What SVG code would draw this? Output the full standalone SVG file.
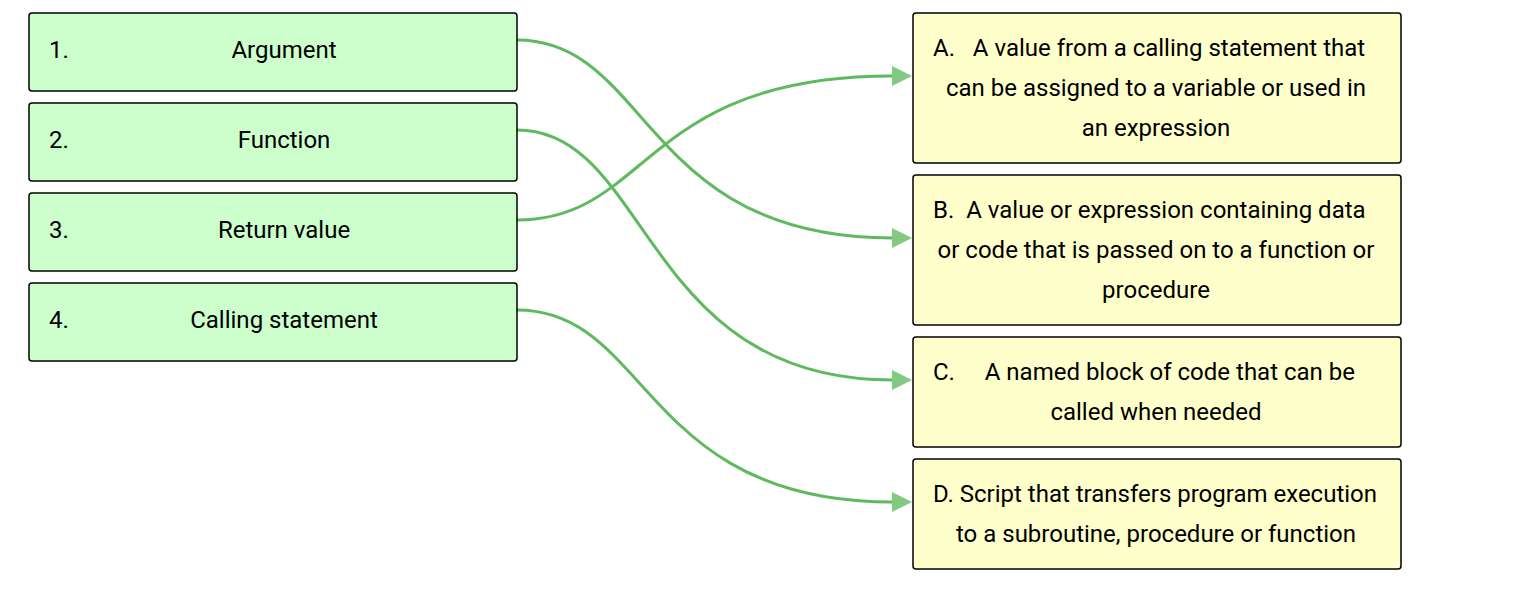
<svg xmlns="http://www.w3.org/2000/svg" width="1516" height="598" viewBox="0 0 1516 598">
<defs>
<style>
.l{fill:#ccffcc;stroke:#000;stroke-width:1.5}
.r{fill:#ffffcc;stroke:#000;stroke-width:1.5}
text{font-family:Roboto,"Liberation Sans",sans-serif;font-size:24px;fill:#000}
.c{text-anchor:middle}
.e{fill:none;stroke:#5fba5f;stroke-width:3}
</style>
<marker id="ah" viewBox="0 0 20 20" refX="0" refY="10" markerWidth="20" markerHeight="20" markerUnits="userSpaceOnUse" orient="auto">
<path d="M0,0 L20,10 L0,20 Z" fill="#82c982"/>
</marker>
</defs>
<rect width="1516" height="598" fill="#fff"/>
<g id="connectors">
<path class="e" d="M517,40 C650,40 642,238 892,238" marker-end="url(#ah)"/>
<path class="e" d="M517,130 C650,130 642,380 892,380" marker-end="url(#ah)"/>
<path class="e" d="M517,220 C650,220 642,76 892,76" marker-end="url(#ah)"/>
<path class="e" d="M517,310 C650,310 642,502 892,502" marker-end="url(#ah)"/>
</g>
<g id="n1"><rect class="l" x="29" y="13" width="488" height="78" rx="3"/><text x="49" y="58">1.</text><text class="c" x="284" y="58">Argument</text></g>
<g id="n2"><rect class="l" x="29" y="103" width="488" height="78" rx="3"/><text x="49" y="148">2.</text><text class="c" x="284" y="148">Function</text></g>
<g id="n3"><rect class="l" x="29" y="193" width="488" height="78" rx="3"/><text x="49" y="238">3.</text><text class="c" x="284" y="238">Return value</text></g>
<g id="n4"><rect class="l" x="29" y="283" width="488" height="78" rx="3"/><text x="49" y="328">4.</text><text class="c" x="284" y="328">Calling statement</text></g>
<g id="nA"><rect class="r" x="913" y="13" width="488" height="150" rx="3"/>
<text x="933" y="56" xml:space="preserve">A.   A value from a calling statement that</text>
<text class="c" x="1156" y="96">can be assigned to a variable or used in</text>
<text class="c" x="1156" y="136">an expression</text></g>
<g id="nB"><rect class="r" x="913" y="175" width="488" height="150" rx="3"/>
<text x="933" y="218" xml:space="preserve">B.  A value or expression containing data</text>
<text class="c" x="1156" y="258">or code that is passed on to a function or</text>
<text class="c" x="1156" y="298">procedure</text></g>
<g id="nC"><rect class="r" x="913" y="337" width="488" height="110" rx="3"/>
<text x="933" y="380" xml:space="preserve">C.     A named block of code that can be</text>
<text class="c" x="1156" y="420">called when needed</text></g>
<g id="nD"><rect class="r" x="913" y="459" width="488" height="110" rx="3"/>
<text class="c" x="1155" y="502">D. Script that transfers program execution</text>
<text class="c" x="1156" y="542">to a subroutine, procedure or function</text></g>
</svg>
